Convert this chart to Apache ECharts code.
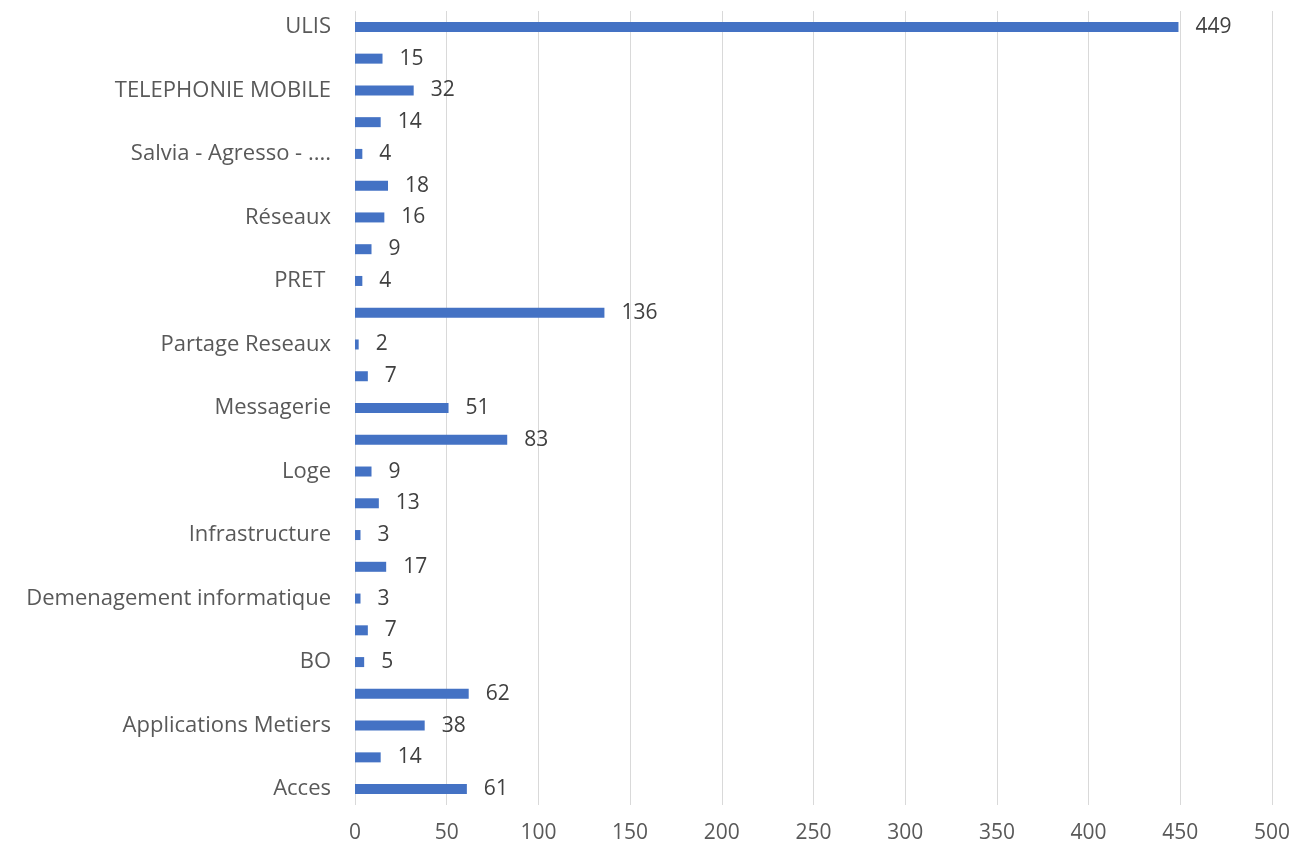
<!DOCTYPE html>
<html>
<head>
<meta charset="utf-8">
<script src="https://cdn.jsdelivr.net/npm/echarts@6/dist/echarts.min.js"></script>
<style>
html,body{margin:0;padding:0;background:#fff;}
#chart{width:1309px;height:851px;}
</style>
</head>
<body>
<div id="chart"></div>
<script>
// Categories bottom to top; unlabeled categories in the picture are kept as empty names
const categories = [
  'Acces', '', 'Applications Metiers', '', 'BO', '', 'Demenagement informatique', '',
  'Infrastructure', '', 'Loge', '', 'Messagerie', '', 'Partage Reseaux', '',
  'PRET ', '', 'Réseaux', '', 'Salvia - Agresso - ....', '', 'TELEPHONIE MOBILE', '', 'ULIS'
];
const values = [
  61, 14, 38, 62, 5, 7, 3, 17,
  3, 13, 9, 83, 51, 7, 2, 136,
  4, 9, 16, 18, 4, 14, 32, 15, 449
];
const xTicks = { min: 0, max: 500, interval: 50 };

const chart = echarts.init(document.getElementById('chart'));
const font = '"Open Sans", sans-serif';
chart.setOption({
  animation: false,
  grid: { left: 355, right: 37, top: 11, bottom: 46, containLabel: false },
  xAxis: {
    type: 'value', min: xTicks.min, max: xTicks.max, interval: xTicks.interval,
    axisLine: { show: false }, axisTick: { show: false },
    splitLine: { lineStyle: { color: '#d9d9d9', width: 1 } },
    axisLabel: { color: '#595959', fontSize: 21, fontFamily: font, margin: 18 }
  },
  yAxis: {
    type: 'category', data: categories,
    axisLine: { show: false }, axisTick: { show: false },
    axisLabel: { interval: 0, color: '#595959', fontSize: 22, fontFamily: font, margin: 24 }
  },
  series: [{
    type: 'bar', data: values, barWidth: 10,
    itemStyle: { color: '#4472C4' },
    label: { show: true, position: 'right', distance: 17, color: '#404040', fontSize: 21, fontFamily: font }
  }]
});
</script>
</body>
</html>
